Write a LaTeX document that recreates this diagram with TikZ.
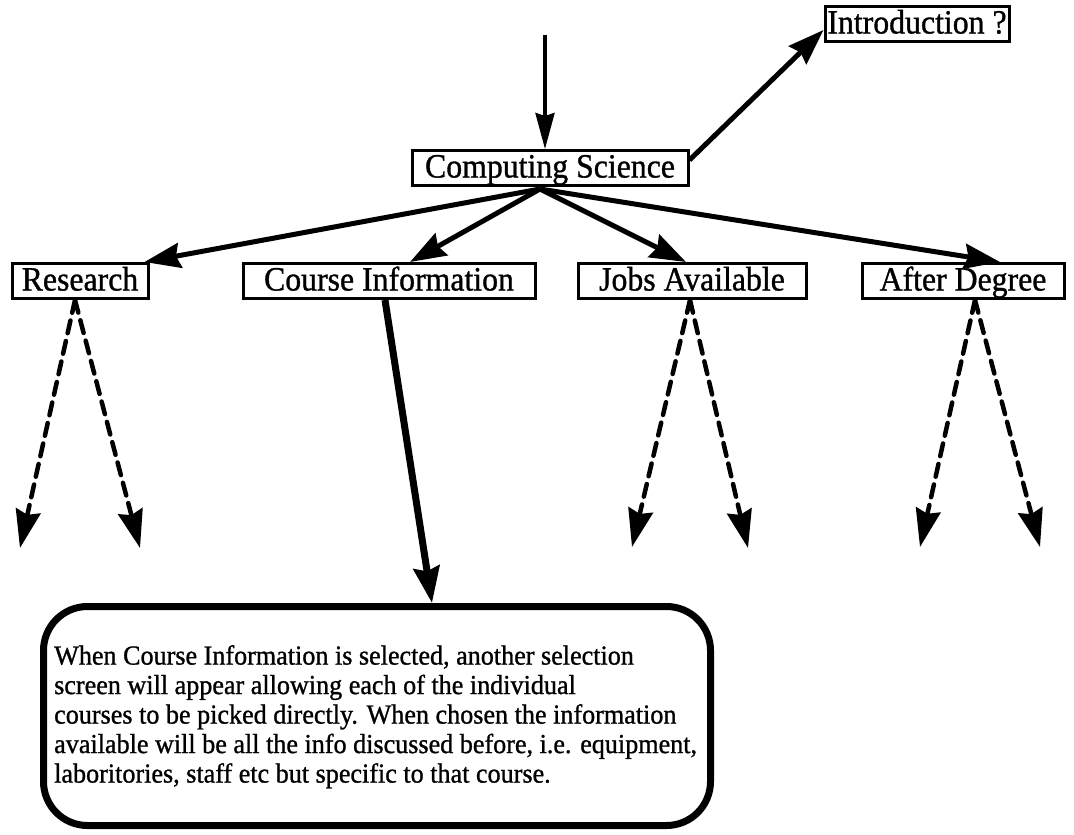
\documentclass[tikz,border=0pt]{standalone}
\usepackage{fontspec}
\setmainfont{Liberation Serif}[FakeStretch=0.935, FakeBold=1]
\newfontfamily\notefont{Liberation Serif}[FakeStretch=0.95, FakeBold=1]
\usetikzlibrary{arrows.meta,calc}

\tikzset{
  menubox/.style={draw, line width=3pt, inner xsep=2pt, inner ysep=3pt,
    text height=24pt, text depth=5pt,
    font=\fontsize{34}{36}\selectfont},
  link/.style={line width=5pt,
    -{Stealth[length=36pt,width=25pt,inset=4pt]}},
  entry/.style={line width=3.5pt,
    -{Stealth[length=36pt,width=19pt,inset=3pt]}},
  sublink/.style={line width=4.5pt, dash pattern=on 13pt off 8pt, line cap=round,
    -{Stealth[length=38pt,width=25pt,inset=4pt]}},
  mainlink/.style={line width=7pt,
    -{Stealth[length=36pt,width=26pt,inset=4pt]}},
  notebox/.style={draw, line width=7pt, rounded corners=44pt,
    minimum width=667pt, minimum height=219pt},
  notetext/.style={inner sep=0pt, align=left,
    font=\notefont\fontsize{27.5}{29.5}\selectfont}
}

\begin{document}
\begin{tikzpicture}[x=1pt,y=-1pt]
\useasboundingbox (0,0) rectangle (1074,835);

% menu screens
\node[menubox, minimum width=276pt] (cs) at (550,168) {Computing Science};
\node[menubox, minimum width=184pt] (intro) at (917,24) {Introduction ?};
\node[menubox, minimum width=136pt] (res) at (80,281) {Research};
\node[menubox, minimum width=292pt] (ci) at (389,281) {Course Information};
\node[menubox, minimum width=228pt] (ja) at (692,281) {Jobs Available};
\node[menubox, minimum width=202pt] (ad) at (963,281) {After Degree};

% explanatory note
\node[notebox, anchor=north west] (note) at (40,603) {};
\node[notetext, anchor=north west] (notetxt) at (54,645) {%
When Course Information is selected, another selection\\
screen will appear allowing each of the individual\\
courses to be picked directly. When chosen the information\\
available will be all the info discussed before, i.e. equipment,\\
laboritories, staff etc but specific to that course.};

% entry into the system
\coordinate (start) at (545,35);
\draw[entry] (start) -- (start |- cs.north);

% links out of the main screen
\draw[link] ($(cs.east)+(0,-8)$) -- ($(intro.west)+(0,6)$);
\coordinate (csb) at ($(cs.south)+(-10,2)$);
\draw[link] (csb) -- ($(res.north east)+(-5,0)$);
\draw[link] (csb) -- ($(ci.north)+(21,0)$);
\draw[link] (csb) -- ($(ja.north)+(-6,0)$);
\draw[link] (csb) -- ($(ad.north)+(37,0)$);

% further screens below each menu
\coordinate (r1) at (20,548);
\coordinate (r2) at (140,548);
\coordinate (j1) at (632,547);
\coordinate (j2) at (748,548);
\coordinate (a1) at (920,547);
\coordinate (a2) at (1040,547);
\draw[sublink] ($(res.south)+(-5,0)$) -- (r1);
\draw[sublink] ($(res.south)+(-5,0)$) -- (r2);
\draw[sublink] ($(ja.south)+(-2,0)$) -- (j1);
\draw[sublink] ($(ja.south)+(-2,0)$) -- (j2);
\draw[sublink] ($(ad.south)+(12,0)$) -- (a1);
\draw[sublink] ($(ad.south)+(12,0)$) -- (a2);

% course information leads to the note
\draw[mainlink] ($(ci.south)+(-4,0)$) -- ($(note.north west)+(392,0)$);
\end{tikzpicture}
\end{document}
